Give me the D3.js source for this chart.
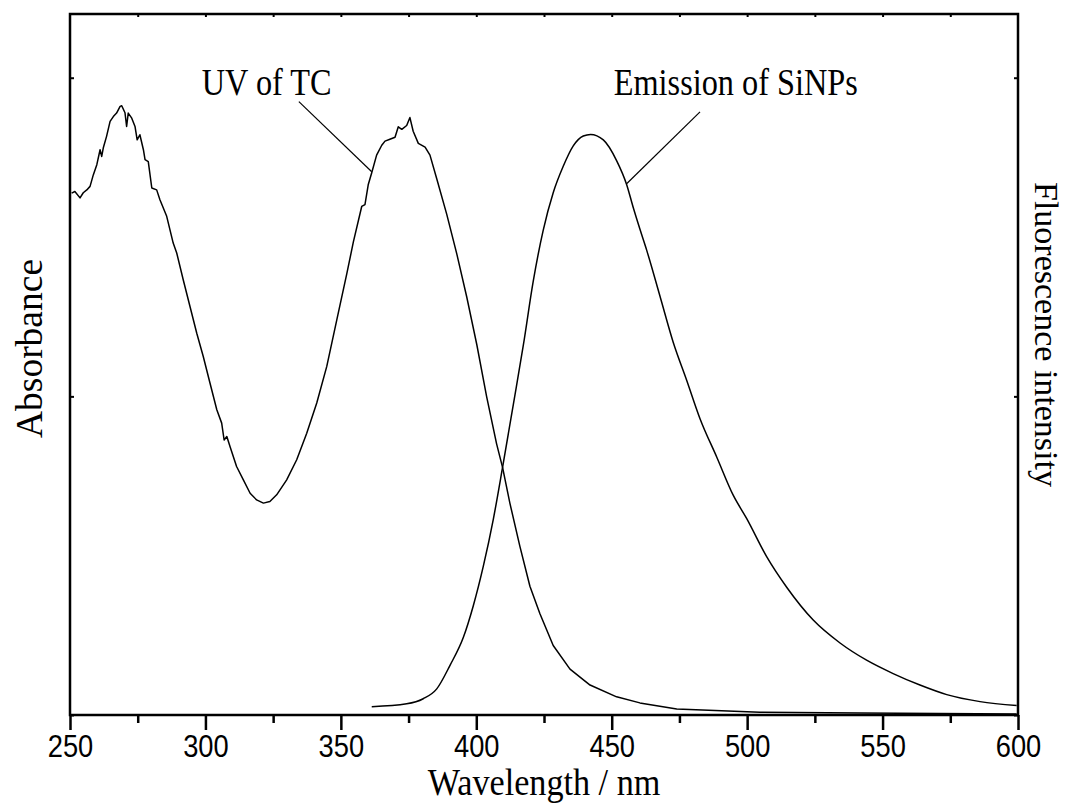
<!DOCTYPE html>
<html>
<head>
<meta charset="utf-8">
<script src="https://cdn.jsdelivr.net/npm/d3@7"></script>
<style>
  html, body { margin: 0; padding: 0; background: #fff; }
  svg { display: block; }
</style>
</head>
<body>
<svg id="chart" width="1070" height="803"></svg>
<script>
// UV absorption spectrum of tetracycline (TC): wavelength (nm) and absorbance (a.u.)
const uvWavelength = [
  250.6, 251.8, 253.7, 254.9, 256.2, 257.4, 258.6, 259.9, 261.1, 261.7, 262.3, 263.5,
  264.8, 266.0, 267.2, 268.5, 269.1, 270.3, 270.9, 271.5, 272.8, 274.0, 274.8, 275.8,
  277.1, 277.7, 278.9, 280.2, 282.0, 283.2, 285.7, 288.1, 289.4, 291.8, 294.3, 296.8,
  299.2, 301.7, 304.2, 306.0, 306.9, 307.9, 309.1, 311.5, 314.0, 316.5, 318.9, 321.4,
  323.8, 326.3, 330.0, 333.7, 337.4, 341.1, 344.8, 348.5, 352.2, 354.6, 357.7, 358.9,
  360.1, 361.4, 363.2, 365.1, 366.3, 368.1, 370.0, 371.2, 372.5, 374.3, 375.5, 376.7,
  378.6, 381.1, 382.9, 385.4, 389.1, 392.8, 396.5, 400.2, 403.8, 407.5, 409.7, 412.4,
  416.1, 419.8, 423.5, 428.4, 434.6, 442.0, 451.8, 460.4, 474.0, 504.7, 541.7, 599.5
];
const uvAbsorbance = [
  1.638, 1.643, 1.623, 1.639, 1.648, 1.659, 1.695, 1.727, 1.774, 1.753, 1.780, 1.816,
  1.863, 1.878, 1.889, 1.910, 1.912, 1.890, 1.847, 1.889, 1.873, 1.847, 1.805, 1.821,
  1.774, 1.743, 1.737, 1.654, 1.648, 1.617, 1.565, 1.481, 1.450, 1.366, 1.282, 1.198,
  1.125, 1.041, 0.958, 0.916, 0.863, 0.874, 0.842, 0.780, 0.738, 0.696, 0.675, 0.665,
  0.670, 0.691, 0.738, 0.801, 0.884, 0.979, 1.094, 1.240, 1.385, 1.484, 1.596, 1.602,
  1.664, 1.702, 1.757, 1.788, 1.801, 1.807, 1.813, 1.846, 1.838, 1.850, 1.875, 1.832,
  1.794, 1.782, 1.757, 1.683, 1.571, 1.447, 1.311, 1.162, 1.000, 0.851, 0.777, 0.665,
  0.529, 0.404, 0.318, 0.218, 0.144, 0.094, 0.057, 0.038, 0.019, 0.009, 0.006, 0.0035
];

// Fluorescence emission spectrum of silicon nanoparticles (SiNPs), same vertical scale
const emWavelength = [
  361.4, 374.3, 380.4, 385.4, 390.3, 395.2, 398.9, 402.6, 406.3, 409.7, 413.7, 417.4,
  421.0, 424.7, 428.4, 432.1, 435.8, 439.5, 442.2, 446.9, 451.8, 455.5, 458.0, 460.4,
  462.9, 467.8, 472.7, 477.7, 482.6, 488.8, 494.9, 499.8, 507.2, 514.6, 524.4, 534.3,
  544.1, 553.9, 563.8, 573.7, 586.0, 599.5
];
const emIntensity = [
  0.026, 0.035, 0.051, 0.082, 0.156, 0.243, 0.343, 0.467, 0.615, 0.777, 0.976, 1.162,
  1.360, 1.521, 1.639, 1.722, 1.786, 1.817, 1.822, 1.805, 1.740, 1.665, 1.591, 1.525,
  1.459, 1.315, 1.170, 1.050, 0.930, 0.809, 0.689, 0.617, 0.497, 0.401, 0.298, 0.226,
  0.172, 0.130, 0.094, 0.064, 0.042, 0.030
];

// Axis ticks
const xMajorTicks = [250, 300, 350, 400, 450, 500, 550, 600];
const xMinorTicks = [275, 325, 375, 425, 475, 525, 575];
const xTopTicks = [275, 300, 325, 350, 375, 400, 425, 450, 475, 500, 525, 550, 575];
const yTicks = [0, 1, 2];

// Curve labels with leader lines: text anchor, leader start and leader end (data units)
const curveLabels = ["UV of TC", "Emission of SiNPs"];
const labelAnchors = [[322.6, 1.946], [495.8, 1.946]];
const leaderStarts = [[334.5, 1.925], [482.6, 1.893]];
const leaderEnds = [[361.4, 1.705], [455.6, 1.668]];

const svg = d3.select("#chart");
const plotLeft = 70, plotRight = 1018, plotTop = 14, plotBottom = 715;

const x = d3.scaleLinear().domain([250, 600]).range([plotLeft, plotRight]);
const y = d3.scaleLinear().domain([0, 2.2]).range([plotBottom, plotTop]);

const serif = "'Liberation Serif', 'Times New Roman', serif";
const sans = "'Liberation Sans', Arial, sans-serif";

// Bottom axis: major ticks with labels, minor ticks without
const gBottom = svg.append("g").attr("transform", `translate(0,${plotBottom})`)
  .call(d3.axisBottom(x).tickValues(xMajorTicks).tickSize(15).tickSizeOuter(0)
        .tickPadding(5).tickFormat(d3.format("d")));
gBottom.select(".domain").remove();
gBottom.selectAll(".tick line").attr("stroke", "#000").attr("stroke-width", 2.5);
gBottom.selectAll(".tick text")
  .attr("font-family", sans).attr("font-size", 31).attr("fill", "#000")
  .attr("transform", "scale(0.88,1)");

const gBottomMinor = svg.append("g").attr("transform", `translate(0,${plotBottom})`)
  .call(d3.axisBottom(x).tickValues(xMinorTicks).tickSize(8).tickFormat(""));
gBottomMinor.select(".domain").remove();
gBottomMinor.selectAll(".tick line").attr("stroke", "#000").attr("stroke-width", 2.5);

// Top axis: small inward ticks
const gTop = svg.append("g").attr("transform", `translate(0,${plotTop})`)
  .call(d3.axisBottom(x).tickValues(xTopTicks).tickSize(3).tickFormat(""));
gTop.select(".domain").remove();
gTop.selectAll(".tick line").attr("stroke", "#000").attr("stroke-width", 2);

// Left and right axes: small inward ticks, no labels
const gLeft = svg.append("g").attr("transform", `translate(${plotLeft},0)`)
  .call(d3.axisRight(y).tickValues(yTicks).tickSize(4).tickFormat(""));
gLeft.select(".domain").remove();
gLeft.selectAll(".tick line").attr("stroke", "#000").attr("stroke-width", 2);

const gRight = svg.append("g").attr("transform", `translate(${plotRight},0)`)
  .call(d3.axisLeft(y).tickValues(yTicks).tickSize(4).tickFormat(""));
gRight.select(".domain").remove();
gRight.selectAll(".tick line").attr("stroke", "#000").attr("stroke-width", 2);

// Spectra
const uvData = uvWavelength.map((w, i) => [w, uvAbsorbance[i]]);
const emData = emWavelength.map((w, i) => [w, emIntensity[i]]);

const lineRaw = d3.line().x(d => x(d[0])).y(d => y(d[1]));
const lineSmooth = d3.line().x(d => x(d[0])).y(d => y(d[1])).curve(d3.curveMonotoneX);

svg.append("path").datum(uvData)
  .attr("d", lineRaw)
  .attr("fill", "none").attr("stroke", "#000").attr("stroke-width", 1.5)
  .attr("stroke-linejoin", "round");

svg.append("path").datum(emData)
  .attr("d", lineSmooth)
  .attr("fill", "none").attr("stroke", "#000").attr("stroke-width", 1.5);

// Leader lines and curve labels (narrow serif lettering)
curveLabels.forEach((txt, i) => {
  svg.append("line")
    .attr("x1", x(leaderStarts[i][0])).attr("y1", y(leaderStarts[i][1]))
    .attr("x2", x(leaderEnds[i][0])).attr("y2", y(leaderEnds[i][1]))
    .attr("stroke", "#000").attr("stroke-width", 1.2);
  svg.append("text")
    .attr("transform", `translate(${x(labelAnchors[i][0])},${y(labelAnchors[i][1])}) scale(0.85,1)`)
    .attr("text-anchor", "middle")
    .attr("font-family", serif).attr("font-size", 38)
    .text(txt);
});

// Plot frame
svg.append("rect")
  .attr("x", plotLeft).attr("y", plotTop)
  .attr("width", plotRight - plotLeft).attr("height", plotBottom - plotTop)
  .attr("fill", "none").attr("stroke", "#000").attr("stroke-width", 2.5);

// Axis titles
svg.append("text")
  .attr("transform", `translate(${(plotLeft + plotRight) / 2},795) scale(0.9,1)`)
  .attr("text-anchor", "middle")
  .attr("font-family", serif).attr("font-size", 38)
  .text("Wavelength / nm");

svg.append("text")
  .attr("transform", `translate(42,${(plotTop + plotBottom) / 2 - 16}) rotate(-90)`)
  .attr("text-anchor", "middle")
  .attr("font-family", serif).attr("font-size", 37.5)
  .text("Absorbance");

svg.append("text")
  .attr("transform", `translate(1035,${(plotTop + plotBottom) / 2 - 30}) rotate(90)`)
  .attr("text-anchor", "middle")
  .attr("font-family", serif).attr("font-size", 34)
  .text("Fluorescence intensity");
</script>
</body>
</html>
